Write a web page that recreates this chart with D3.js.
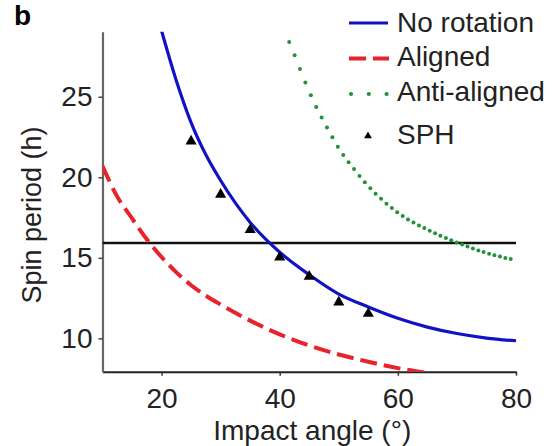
<!DOCTYPE html>
<html>
<head>
<meta charset="utf-8">
<script src="https://cdn.jsdelivr.net/npm/d3@7"></script>
<style>
  body { margin: 0; background: #fff; }
  svg text { font-family: "Liberation Sans", Arial, Helvetica, sans-serif; fill: #222; }
</style>
</head>
<body>
<script>
// values
var xTicks = [20, 40, 60, 80];
var yTicks = [10, 15, 20, 25];

var noRotAngle  = [20, 22.5, 25, 27.5, 30, 35, 40, 45, 50, 55, 60, 65, 70, 75, 80];
var noRotPeriod = [29.1, 26.0, 23.4, 21.4, 19.8, 17.2, 15.35, 13.95, 12.75, 11.95, 11.25, 10.7, 10.3, 10.02, 9.85];

var alignedAngle  = [10, 12.5, 15, 17.5, 20, 22.5, 25, 27.5, 30, 35, 40, 45, 50, 55, 60, 65];
var alignedPeriod = [20.7, 18.8, 17.45, 16.15, 15.05, 14.1, 13.3, 12.65, 12.1, 11.1, 10.25, 9.55, 9.0, 8.55, 8.15, 7.85];

var antiAngle  = [41.6, 42.5, 44, 46, 48, 50, 52.5, 55, 57.5, 60, 65, 70, 75, 80];
var antiPeriod = [28.4, 27.6, 26.2, 24.5, 23.1, 21.8, 20.55, 19.45, 18.55, 17.8, 16.75, 15.95, 15.3, 14.85];

var sphAngle  = [25, 30, 35, 40, 45, 50, 55];
var sphPeriod = [22.3, 19.0, 16.8, 15.1, 13.9, 12.3, 11.6];

var refPeriod = 15.92;

var legendLabels = ["No rotation", "Aligned", "Anti-aligned", "SPH"];

var W = 557, H = 446;
var margin = {top: 31.7, left: 102.5},
    w = 413.5,
    h = 340;

var blue = "#1212c4", red = "#e8232b", green = "#23913c";

function drawChart() {
	var svg = d3.select("body").append("svg")
		.attr("width", W)
		.attr("height", H);

	var xScale = d3.scaleLinear().domain([10, 80]).range([0, w]);
	var yScale = d3.scaleLinear().domain([7.93, 29.04]).range([h, 0]);

	var g = svg.append("g")
		.attr("transform", "translate(" + margin.left + "," + margin.top + ")");

	svg.append("defs").append("clipPath").attr("id", "plotClip")
		.append("rect").attr("x", 0).attr("y", 0).attr("width", w).attr("height", h);

	/*Axes*/
	var xAxis = d3.axisBottom(xScale).tickValues(xTicks).tickSize(4).tickSizeOuter(0).tickPadding(12);
	var yAxis = d3.axisLeft(yScale).tickValues(yTicks).tickSize(4).tickSizeOuter(0).tickPadding(6);

	var gx = g.append("g")
		.attr("transform", "translate(0," + h + ")")
		.call(xAxis);
	gx.select(".domain").attr("stroke", "#222").attr("stroke-width", 2);
	gx.selectAll(".tick line").attr("stroke", "#333").attr("stroke-width", 1.5);
	gx.selectAll(".tick text").style("font-size", "28px");

	var gy = g.append("g").call(yAxis);
	gy.select(".domain").attr("stroke", "#666").attr("stroke-width", 2.2);
	gy.selectAll(".tick line").attr("stroke", "#444").attr("stroke-width", 1.5);
	gy.selectAll(".tick text").style("font-size", "28px");

	var plot = g.append("g").attr("clip-path", "url(#plotClip)");

	var line = d3.line()
		.x(function(d) { return xScale(d[0]); })
		.y(function(d) { return yScale(d[1]); })
		.curve(d3.curveMonotoneX);

	/*Reference spin period*/
	plot.append("line")
		.attr("x1", 0).attr("x2", w)
		.attr("y1", yScale(refPeriod)).attr("y2", yScale(refPeriod))
		.attr("stroke", "#111").attr("stroke-width", 2.6);

	/*Aligned*/
	plot.append("path")
		.attr("d", line(d3.zip(alignedAngle, alignedPeriod)))
		.attr("fill", "none")
		.attr("stroke", red)
		.attr("stroke-width", 4)
		.attr("stroke-dasharray", "17,7");

	/*Anti-aligned, dots evenly spaced in x like the original markers*/
	var antiPath = plot.append("path")
		.attr("d", line(d3.zip(antiAngle, antiPeriod)))
		.attr("fill", "none")
		.attr("stroke", "none");
	var node = antiPath.node(),
		L = node.getTotalLength(),
		nextX = xScale(antiAngle[0]),
		dots = [];
	for (var s = 0; s <= L; s += 0.25) {
		var p = node.getPointAtLength(s);
		if (p.x >= nextX) {
			dots.push(p);
			nextX += 5.4;
		}
	}
	plot.selectAll("circle.anti")
		.data(dots)
		.enter()
		.append("circle")
		.attr("class", "anti")
		.attr("cx", function(d) { return d.x; })
		.attr("cy", function(d) { return d.y; })
		.attr("r", 2)
		.attr("fill", green);

	/*No rotation*/
	plot.append("path")
		.attr("d", line(d3.zip(noRotAngle, noRotPeriod)))
		.attr("fill", "none")
		.attr("stroke", blue)
		.attr("stroke-width", 3.2);

	/*SPH points*/
	var tri = d3.symbol().type(d3.symbolTriangle).size(54);
	g.selectAll("path.sph")
		.data(d3.zip(sphAngle, sphPeriod))
		.enter()
		.append("path")
		.attr("class", "sph")
		.attr("d", tri)
		.attr("transform", function(d) {
			return "translate(" + xScale(d[0]) + "," + (yScale(d[1]) + 1) + ")";
		})
		.attr("fill", "#000");

	/*Titles*/
	svg.append("text")
		.attr("x", margin.left + w / 2 + 3)
		.attr("y", 440)
		.attr("text-anchor", "middle")
		.style("font-size", "28px")
		.text("Impact angle (°)");

	svg.append("text")
		.attr("transform", "translate(41,215) rotate(-90)")
		.attr("text-anchor", "middle")
		.style("font-size", "27px")
		.text("Spin period (h)");

	svg.append("text")
		.attr("x", 14)
		.attr("y", 25)
		.style("font-size", "28px")
		.style("font-weight", "bold")
		.style("fill", "#000")
		.text("b");

	/*Legend*/
	var lx = 349, tx = 397;
	var rowY = [23, 58.5, 94, 135];
	var baseY = [31.5, 66, 101, 144];

	svg.append("line")
		.attr("x1", lx).attr("x2", lx + 39)
		.attr("y1", rowY[0]).attr("y2", rowY[0])
		.attr("stroke", blue).attr("stroke-width", 3.2);
	svg.append("line")
		.attr("x1", lx).attr("x2", lx + 40)
		.attr("y1", rowY[1]).attr("y2", rowY[1])
		.attr("stroke", red).attr("stroke-width", 4)
		.attr("stroke-dasharray", "17,7");
	svg.selectAll("circle.legdot")
		.data([0, 1, 2])
		.enter()
		.append("circle")
		.attr("class", "legdot")
		.attr("cx", function(d) { return lx + 2 + d * 17.8; })
		.attr("cy", rowY[2])
		.attr("r", 2.1)
		.attr("fill", green);
	svg.append("path")
		.attr("d", d3.symbol().type(d3.symbolTriangle).size(26))
		.attr("transform", "translate(368," + (rowY[3] + 1) + ")")
		.attr("fill", "#000");

	svg.selectAll("text.leg")
		.data(legendLabels)
		.enter()
		.append("text")
		.attr("class", "leg")
		.attr("x", tx)
		.attr("y", function(d, i) { return baseY[i]; })
		.style("font-size", "28px")
		.text(function(d) { return d; });
}

drawChart();
</script>
</body>
</html>
